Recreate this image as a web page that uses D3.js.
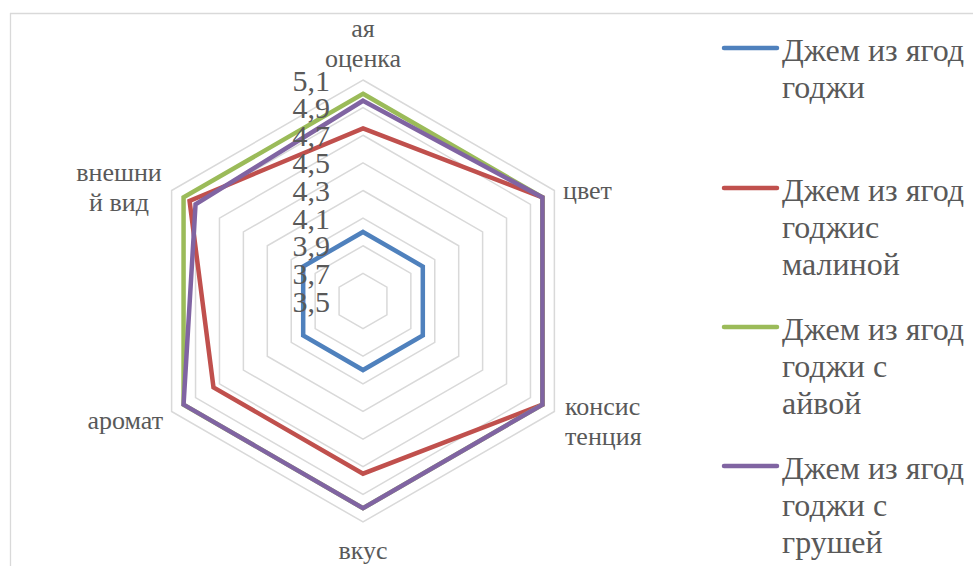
<!DOCTYPE html>
<html>
<head>
<meta charset="utf-8">
<script src="https://cdn.jsdelivr.net/npm/d3@7"></script>
<style>
  html, body { margin: 0; padding: 0; background: #fff; }
  svg { display: block; }
  .lbl { font-family: "Times New Roman", "Liberation Serif", Tinos, "Noto Serif", "DejaVu Serif", FreeSerif, serif; }
</style>
</head>
<body>
<svg id="chart" width="973" height="566"></svg>
<script>
// Axis names (each may wrap onto several lines)
const categories = [
  ["ая", "оценка"],
  ["цвет"],
  ["консис", "тенция"],
  ["вкус"],
  ["аромат"],
  ["внешни", "й вид"]
];

// Radial scale ticks
const tickValues = [3.5, 3.7, 3.9, 4.1, 4.3, 4.5, 4.7, 4.9, 5.1];
const tickLabels = ["3,5", "3,7", "3,9", "4,1", "4,3", "4,5", "4,7", "4,9", "5,1"];

// Series (order follows categories)
const seriesNames = [
  ["Джем из ягод", "годжи"],
  ["Джем из ягод", "годжис", "малиной"],
  ["Джем из ягод", "годжи с", "айвой"],
  ["Джем из ягод", "годжи с", "грушей"]
];
const goji        = [4.0, 4.0, 4.0, 4.0, 4.0, 4.0];
const gojiRasp    = [4.75, 5.0, 5.0, 4.75, 4.75, 4.95];
const gojiQuince  = [5.0, 5.0, 5.0, 5.0, 5.0, 5.0];
const gojiPear    = [4.95, 5.0, 5.0, 5.0, 5.0, 4.9];
const seriesValues = [goji, gojiRasp, gojiQuince, gojiPear];
const seriesColors = ["#4F81BD", "#C0504D", "#9BBB59", "#8064A2"];

const TEXT_COLOR = "#595959";

const svg = d3.select("#chart");
const W = 973, H = 566;
const cx = 363, cy = 301, R = 221;

// Chart frame edges
svg.append("line").attr("x1", 10).attr("x2", W).attr("y1", 13.5).attr("y2", 13.5)
  .attr("stroke", "#D9D9D9").attr("stroke-width", 1.3);
svg.append("line").attr("x1", 10.5).attr("x2", 10.5).attr("y1", 13).attr("y2", H)
  .attr("stroke", "#D9D9D9").attr("stroke-width", 1.3);

const r = d3.scaleLinear().domain([3.5, 5.1]).range([0, R]);
const angle = d3.scaleLinear().domain([0, categories.length]).range([0, 2 * Math.PI]);

const radial = d3.lineRadial()
  .angle((d, i) => angle(i))
  .radius(d => r(d))
  .curve(d3.curveLinearClosed);

const g = svg.append("g").attr("transform", `translate(${cx},${cy})`);

// Grid rings
g.selectAll("path.ring")
  .data(tickValues.slice(1))
  .join("path")
  .attr("class", "ring")
  .attr("d", v => radial(categories.map(() => v)))
  .attr("fill", "none")
  .attr("stroke", "#D9D9D9")
  .attr("stroke-width", 1.5);

// Series outlines
g.selectAll("path.series")
  .data(seriesValues)
  .join("path")
  .attr("class", "series")
  .attr("d", d => radial(d))
  .attr("fill", "none")
  .attr("stroke", (d, i) => seriesColors[i])
  .attr("stroke-width", 4.5)
  .attr("stroke-linejoin", "miter");

// Radial tick labels
g.selectAll("text.tick")
  .data(tickValues)
  .join("text")
  .attr("class", "tick lbl")
  .attr("x", -33)
  .attr("y", v => -r(v))
  .attr("dy", "0.35em")
  .attr("text-anchor", "end")
  .attr("font-size", 30)
  .attr("fill", TEXT_COLOR)
  .text((v, i) => tickLabels[i]);

// Category labels
const labelPos = [
  { x: 0, y: -273, anchor: "middle" },
  { x: 200, y: -111, anchor: "start" },
  { x: 202, y: 105, anchor: "start" },
  { x: 0, y: 249, anchor: "middle" },
  { x: -200, y: 119, anchor: "end" },
  { x: -244, y: -129, anchor: "middle" }
];
const lineH = 30;
categories.forEach((lines, i) => {
  const p = labelPos[i];
  const t = g.append("text")
    .attr("class", "lbl")
    .attr("text-anchor", p.anchor)
    .attr("font-size", 26)
    .attr("fill", TEXT_COLOR);
  lines.forEach((s, k) => {
    t.append("tspan").attr("x", p.x).attr("y", p.y + k * lineH).attr("dy", "0.35em").text(s);
  });
});

// Legend
const legendY = [48, 188, 327, 466];
const legend = svg.append("g");
seriesNames.forEach((lines, i) => {
  const y = legendY[i];
  legend.append("line")
    .attr("x1", 724).attr("x2", 777)
    .attr("y1", y).attr("y2", y)
    .attr("stroke", seriesColors[i])
    .attr("stroke-width", 4.5)
    .attr("stroke-linecap", "round");
  const t = legend.append("text")
    .attr("class", "lbl")
    .attr("font-size", 32)
    .attr("fill", TEXT_COLOR);
  lines.forEach((s, k) => {
    t.append("tspan").attr("x", 782).attr("y", y + 2 + k * 37).attr("dy", "0.35em").text(s);
  });
});
</script>
</body>
</html>
